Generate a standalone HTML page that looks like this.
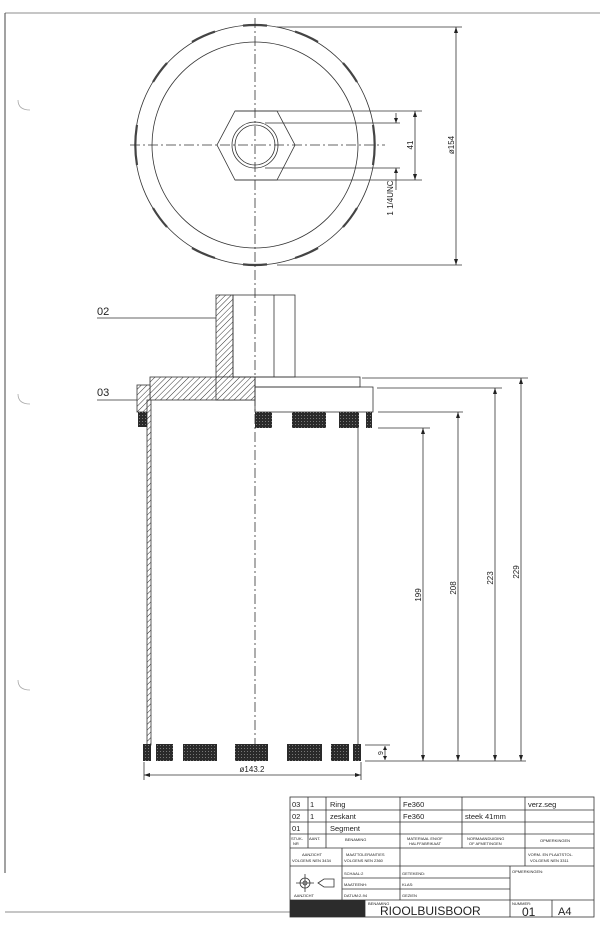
<!DOCTYPE html>
<html><head><meta charset="utf-8"><style>
html,body{margin:0;padding:0;background:#fff;width:600px;height:927px;overflow:hidden}
svg{display:block}
text{font-family:"Liberation Sans",sans-serif;fill:#222}
</style></head><body>
<svg width="600" height="927" viewBox="0 0 600 927" xmlns="http://www.w3.org/2000/svg">
<defs>
<pattern id="h" width="4" height="4" patternUnits="userSpaceOnUse" patternTransform="rotate(45)">
<rect width="4" height="4" fill="#fff"/><line x1="0" y1="0" x2="0" y2="4" stroke="#333" stroke-width="1"/></pattern>
<pattern id="s" width="3" height="3" patternUnits="userSpaceOnUse">
<rect width="3" height="3" fill="#2a2a2a"/><rect x="1" y="1" width="1" height="1" fill="#777"/></pattern>
</defs>
<g fill="none" stroke="#333" stroke-width="0.8">
<!-- border -->
<line x1="5" y1="13" x2="600" y2="13" stroke="#666"/>
<line x1="5" y1="13" x2="5" y2="873" stroke="#444" stroke-width="1"/>
<line x1="5" y1="912" x2="290" y2="912" stroke="#666"/>
<path d="M18 100 q0 10 12 10 M18 394 q0 10 12 10 M18 680 q0 10 12 10" stroke="#aaa"/>

<!-- top view -->
<circle cx="255" cy="145" r="120"/>
<circle cx="255" cy="145" r="103"/>
<g stroke-width="2.2" stroke="#444">
<path d="M243 25.6 A120 120 0 0 1 267 25.6"/>
<path d="M295 31.6 A120 120 0 0 1 318 42"/>
<path d="M343 63 A120 120 0 0 1 357 82"/>
<path d="M373 125 A120 120 0 0 1 373 165"/>
<path d="M357 208 A120 120 0 0 1 343 227"/>
<path d="M318 248 A120 120 0 0 1 295 258"/>
<path d="M267 264.4 A120 120 0 0 1 243 264.4"/>
<path d="M215 258 A120 120 0 0 1 192 248"/>
<path d="M167 227 A120 120 0 0 1 153 208"/>
<path d="M137 165 A120 120 0 0 1 137 125"/>
<path d="M153 82 A120 120 0 0 1 167 63"/>
<path d="M192 42 A120 120 0 0 1 215 31.6"/>
</g>
<polygon points="235,111 277,111 295,145 277,180 235,180 217,145"/>
<circle cx="255" cy="145" r="23"/>
<circle cx="255" cy="145" r="20"/>
<line x1="255" y1="18" x2="255" y2="762" stroke-dasharray="10 3 2 3"/>
<line x1="130" y1="145" x2="385" y2="145" stroke-dasharray="10 3 2 3"/>
<line x1="235" y1="111" x2="422" y2="111"/>
<line x1="265" y1="123" x2="400" y2="123"/>
<line x1="265" y1="168" x2="400" y2="168"/>
<line x1="235" y1="180" x2="422" y2="180"/>
<line x1="415" y1="111" x2="415" y2="180"/>
<line x1="396" y1="113" x2="396" y2="123"/>
<line x1="396" y1="168" x2="396" y2="190"/>
<line x1="277" y1="27" x2="462" y2="27"/>
<line x1="277" y1="265" x2="462" y2="265"/>
<line x1="456" y1="27" x2="456" y2="265"/>

<!-- side view -->
<rect x="216" y="295" width="17" height="105" fill="url(#h)"/>
<rect x="150" y="377" width="105" height="23" fill="url(#h)"/>
<rect x="216" y="377" width="39" height="23" fill="url(#h)"/>
<rect x="137" y="385" width="13" height="27" fill="url(#h)"/>
<rect x="147" y="400" width="4" height="345" fill="url(#h)"/>
<rect x="233" y="295" width="62" height="82"/>
<line x1="274" y1="295" x2="274" y2="377"/>
<rect x="255" y="377" width="105" height="10"/>
<rect x="255" y="387" width="118" height="25"/>
<line x1="358" y1="428" x2="358" y2="745"/>
<line x1="97" y1="318" x2="216" y2="318"/>
<line x1="97" y1="400" x2="137" y2="400"/>

<!-- dims lower -->
<line x1="362" y1="378" x2="528" y2="378"/>
<line x1="377" y1="388" x2="502" y2="388"/>
<line x1="378" y1="412" x2="463" y2="412"/>
<line x1="378" y1="428" x2="430" y2="428"/>
<line x1="365" y1="761" x2="526" y2="761"/>
<line x1="365" y1="745" x2="390" y2="745"/>
<line x1="423" y1="428" x2="423" y2="761"/>
<line x1="458" y1="412" x2="458" y2="761"/>
<line x1="495" y1="388" x2="495" y2="761"/>
<line x1="521" y1="378" x2="521" y2="761"/>
<line x1="385" y1="746" x2="385" y2="760"/>
<line x1="144" y1="762" x2="144" y2="780"/>
<line x1="361" y1="762" x2="361" y2="780"/>
<line x1="144" y1="775" x2="361" y2="775"/>
</g>
<g fill="#222">
<path d="M415 111 l-2 6 h4z M415 180 l-2 -6 h4z M396 123 l-2 -5 h4z M396 168 l-2 5 h4z M456 27 l-2 6 h4z M456 265 l-2 -6 h4z"/>
<path d="M423 428 l-2 6 h4z M423 761 l-2 -6 h4z M458 412 l-2 6 h4z M458 761 l-2 -6 h4z M495 388 l-2 6 h4z M495 761 l-2 -6 h4z M521 378 l-2 6 h4z M521 761 l-2 -6 h4z M385 746 l-2 4 h4z M385 760 l-2 -4 h4z M144 775 l6 -2 v4z M361 775 l-6 -2 v4z"/>
</g>
<g fill="url(#s)">
<rect x="138" y="412" width="9" height="15"/>
<rect x="255" y="412" width="17" height="16"/>
<rect x="292" y="412" width="34" height="16"/>
<rect x="339" y="412" width="20" height="16"/>
<rect x="366" y="412" width="6" height="16"/>
<rect x="143" y="744" width="8" height="17"/>
<rect x="156" y="744" width="17" height="17"/>
<rect x="183" y="744" width="34" height="17"/>
<rect x="235" y="744" width="33" height="17"/>
<rect x="287" y="744" width="35" height="17"/>
<rect x="331" y="744" width="18" height="17"/>
<rect x="353" y="744" width="8" height="17"/>
</g>
<g font-size="8">
<text transform="translate(413 145) rotate(-90)" text-anchor="middle">41</text>
<text transform="translate(454 145) rotate(-90)" text-anchor="middle">ø154</text>
<text transform="translate(393 198) rotate(-90)" text-anchor="middle">1 1/4UNC</text>
<text transform="translate(421 595) rotate(-90)" text-anchor="middle">199</text>
<text transform="translate(456 588) rotate(-90)" text-anchor="middle">208</text>
<text transform="translate(493 578) rotate(-90)" text-anchor="middle">223</text>
<text transform="translate(519 572) rotate(-90)" text-anchor="middle">229</text>
<text transform="translate(383 753) rotate(-90)" text-anchor="middle" font-size="7">9</text>
<text x="252" y="772" text-anchor="middle">ø143.2</text>
</g>
<text x="97" y="315" font-size="11">02</text>
<text x="97" y="396" font-size="11">03</text>

<!-- title block -->
<g fill="none" stroke="#333" stroke-width="0.8">
<rect x="290" y="797" width="304" height="120"/>
<line x1="290" y1="810" x2="594" y2="810"/>
<line x1="290" y1="822" x2="594" y2="822"/>
<line x1="290" y1="834" x2="594" y2="834"/>
<line x1="290" y1="848" x2="594" y2="848"/>
<line x1="290" y1="866" x2="594" y2="866"/>
<line x1="342" y1="878" x2="510" y2="878"/>
<line x1="342" y1="889" x2="510" y2="889"/>
<line x1="290" y1="900" x2="594" y2="900"/>
<line x1="308" y1="797" x2="308" y2="848"/>
<line x1="326" y1="797" x2="326" y2="848"/>
<line x1="400" y1="797" x2="400" y2="900"/>
<line x1="462" y1="797" x2="462" y2="848"/>
<line x1="525" y1="797" x2="525" y2="866"/>
<line x1="342" y1="848" x2="342" y2="900"/>
<line x1="510" y1="866" x2="510" y2="917"/>
<line x1="365" y1="900" x2="365" y2="917"/>
<line x1="552" y1="900" x2="552" y2="917"/>
<circle cx="305" cy="883" r="5"/>
<circle cx="305" cy="883" r="2"/>
<line x1="296" y1="883" x2="314" y2="883"/><line x1="305" y1="874" x2="305" y2="892"/>
<path d="M318 883 l6 -4 h10 v8 h-10z"/>
</g>
<rect x="290" y="900" width="75" height="17" fill="#2c2c2c"/>
<g font-size="7.5">
<text x="292" y="807">03</text><text x="310" y="807">1</text><text x="330" y="807">Ring</text><text x="403" y="807">Fe360</text><text x="528" y="807">verz.seg</text>
<text x="292" y="819">02</text><text x="310" y="819">1</text><text x="330" y="819">zeskant</text><text x="403" y="819">Fe360</text><text x="465" y="819">steek 41mm</text>
<text x="292" y="831">01</text><text x="330" y="831">Segment</text>
</g>
<g font-size="4">
<text x="291" y="840">STUK-</text><text x="293" y="845">NR</text><text x="309" y="840">AANT.</text>
<text x="345" y="841">BENAMING</text>
<text x="407" y="840">MATERIAAL EN/OF</text><text x="409" y="845">HALFFABRIKAAT</text>
<text x="467" y="840">NORMAANDUIDING</text><text x="469" y="845">OF AFMETINGEN</text>
<text x="540" y="842">OPMERKINGEN</text>
<text x="302" y="856">AANZICHT</text><text x="292" y="862">VOLGENS NEN 3434</text>
<text x="346" y="856">MAATTOLERANTIES</text><text x="344" y="862">VOLGENS NEN 2360</text>
<text x="528" y="856">VORM- EN PLAATSTOL.</text><text x="530" y="862">VOLGENS NEN 3311</text>
<text x="344" y="875">SCHAAL:2</text><text x="344" y="886">MAATEENH:</text><text x="344" y="897">DATUM:2-94</text>
<text x="402" y="875">GETEKEND:</text><text x="402" y="886">KLAS:</text><text x="402" y="897">GEZIEN</text>
<text x="512" y="873">OPMERKINGEN:</text>
<text x="294" y="897">AANZICHT</text>
<text x="368" y="905">BENAMING</text>
<text x="512" y="905">NUMMER:</text>
</g>
<text x="380" y="915" font-size="12">RIOOLBUISBOOR</text>
<text x="522" y="916" font-size="12">01</text>
<text x="558" y="915" font-size="11">A4</text>
</svg>
</body></html>
